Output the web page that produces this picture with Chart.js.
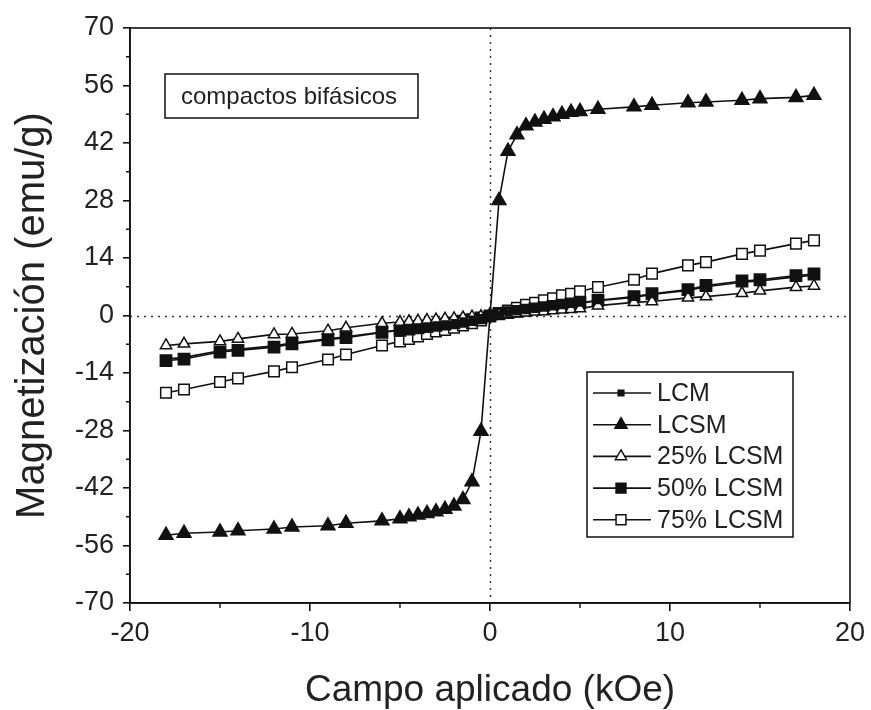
<!DOCTYPE html>
<html>
<head>
<meta charset="utf-8">
<script src="https://cdn.jsdelivr.net/npm/chart.js@4.4.0/dist/chart.umd.min.js"></script>
<style>
  html, body { margin: 0; padding: 0; background: #fff; }
  #c { display: block; }
</style>
</head>
<body>
<canvas id="c" width="871" height="710"></canvas>
<script>
// Applied field (kOe)
const field = [-18, -17, -15, -14, -12, -11, -9, -8, -6, -5, -4.5, -4, -3.5, -3, -2.5, -2, -1.5, -1, -0.5, 0,
               0.5, 1, 1.5, 2, 2.5, 3, 3.5, 4, 4.5, 5, 6, 8, 9, 11, 12, 14, 15, 17, 18];

// Magnetization (emu/g) for each sample
const lcm = [-10.6, -10.2, -8.6, -8.2, -7.4, -6.7, -5.7, -5.2, -4.0, -3.5, -3.2, -2.9, -2.6, -2.3, -2.0, -1.7, -1.3, -0.9, -0.5, -0.1,
             0.3, 0.6, 0.9, 1.2, 1.5, 1.8, 2.1, 2.4, 2.7, 3.0, 3.6, 4.4, 5.1, 6.1, 7.0, 8.1, 8.4, 9.4, 9.8];
const lcsm = [-53.5, -53.0, -52.7, -52.4, -52.0, -51.5, -51.2, -50.6, -50.0, -49.5, -49.0, -48.6, -48.2, -47.8, -47.2, -46.4, -44.8, -40.5, -28.2, 0,
              28.0, 40.0, 44.0, 46.2, 47.1, 47.8, 48.4, 49.0, 49.5, 49.7, 50.2, 50.8, 51.2, 51.8, 52.0, 52.4, 52.8, 53.1, 53.6];
const lcsm25 = [-7.3, -6.9, -6.3, -5.7, -4.6, -4.5, -3.7, -3.0, -1.9, -1.6, -1.4, -1.3, -1.1, -1.0, -0.8, -0.7, -0.5, -0.3, -0.2, 0,
                0.2, 0.4, 0.5, 0.7, 0.9, 1.0, 1.2, 1.4, 1.5, 1.7, 2.4, 3.2, 3.4, 4.3, 4.6, 5.4, 6.0, 6.9, 7.2];
const lcsm50 = [-11.0, -10.6, -8.9, -8.5, -7.7, -6.9, -5.9, -5.4, -4.1, -3.6, -3.3, -3.0, -2.7, -2.4, -2.1, -1.8, -1.4, -1.0, -0.6, -0.1,
                0.4, 0.7, 1.0, 1.3, 1.6, 1.9, 2.2, 2.5, 2.8, 3.1, 3.7, 4.6, 5.3, 6.3, 7.3, 8.4, 8.7, 9.7, 10.1];
const lcsm75 = [-18.8, -18.0, -16.2, -15.3, -13.6, -12.6, -10.7, -9.5, -7.3, -6.3, -5.7, -5.1, -4.5, -3.9, -3.5, -3.0, -2.4, -1.9, -1.2, -0.2,
                0.6, 1.2, 1.9, 2.6, 3.1, 3.7, 4.2, 4.9, 5.3, 5.9, 6.9, 8.7, 10.2, 12.2, 13.0, 15.0, 15.8, 17.5, 18.3];

const seriesNames = ['LCM', 'LCSM', '25% LCSM', '50% LCSM', '75% LCSM'];
const xTicks = [-20, -10, 0, 10, 20];
const yTicks = [-70, -56, -42, -28, -14, 0, 14, 28, 42, 56, 70];

const INK = '#111';
const TXT = '#222';
const toPoints = vals => field.map((f, i) => ({ x: f, y: vals[i] }));

function series(label, vals, style, radius, fill) {
  return {
    label,
    data: toPoints(vals),
    showLine: true,
    borderColor: INK,
    borderWidth: 1.6,
    pointStyle: style,
    pointRadius: radius,
    pointHoverRadius: radius,
    pointBackgroundColor: fill,
    pointBorderColor: INK,
    pointBorderWidth: 1.5,
    tension: 0
  };
}

const datasets = [
  series(seriesNames[0], lcm, 'rect', 4, INK),
  series(seriesNames[1], lcsm, 'triangle', 8, INK),
  series(seriesNames[2], lcsm25, 'triangle', 6.5, '#fff'),
  series(seriesNames[3], lcsm50, 'rect', 8, INK),
  series(seriesNames[4], lcsm75, 'rect', 7.5, '#fff')
];

// Frame, minor ticks and dotted zero lines
const framePlugin = {
  id: 'frame',
  beforeDatasetsDraw(chart) {
    const { ctx, chartArea: a, scales: { x, y } } = chart;
    ctx.save();
    ctx.strokeStyle = '#333';
    ctx.lineWidth = 1.4;
    ctx.setLineDash([2, 5]);
    const x0 = Math.round(x.getPixelForValue(0)) + 0.5;
    const y0 = Math.round(y.getPixelForValue(0)) + 0.5;
    ctx.beginPath();
    ctx.moveTo(x0, a.top); ctx.lineTo(x0, a.bottom);
    ctx.moveTo(a.left, y0); ctx.lineTo(a.right, y0);
    ctx.stroke();
    ctx.restore();
  },
  afterDraw(chart) {
    const { ctx, chartArea: a, scales: { x, y } } = chart;
    ctx.save();
    ctx.strokeStyle = INK;
    ctx.lineWidth = 1.6;
    ctx.setLineDash([]);
    ctx.strokeRect(a.left, a.top, a.right - a.left, a.bottom - a.top);
    // minor ticks halfway between labelled ticks
    ctx.lineWidth = 1.4;
    ctx.beginPath();
    for (let i = 0; i < xTicks.length - 1; i++) {
      const px = x.getPixelForValue((xTicks[i] + xTicks[i + 1]) / 2);
      ctx.moveTo(px, a.bottom); ctx.lineTo(px, a.bottom + 5);
    }
    for (let i = 0; i < yTicks.length - 1; i++) {
      const py = y.getPixelForValue((yTicks[i] + yTicks[i + 1]) / 2);
      ctx.moveTo(a.left, py); ctx.lineTo(a.left - 4, py);
    }
    ctx.stroke();
    ctx.restore();
  }
};

// Legend box and sample note inside the plot
const notesPlugin = {
  id: 'notes',
  afterDraw(chart) {
    const { ctx } = chart;
    ctx.save();
    // note box
    ctx.fillStyle = '#fff';
    ctx.strokeStyle = INK;
    ctx.lineWidth = 1.5;
    ctx.fillRect(165, 74, 253, 44);
    ctx.strokeRect(165, 74, 253, 44);
    ctx.fillStyle = TXT;
    ctx.font = '24px "Liberation Sans", Arial, sans-serif';
    ctx.textBaseline = 'middle';
    ctx.textAlign = 'left';
    ctx.fillText('compactos bifásicos', 181, 97);

    // legend
    const bx = 587, by = 372, bw = 206, bh = 165;
    ctx.fillStyle = '#fff';
    ctx.fillRect(bx, by, bw, bh);
    ctx.strokeRect(bx, by, bw, bh);
    const rowH = 31.7;
    chart.data.datasets.forEach((ds, i) => {
      const cy = by + 21 + i * rowH;
      ctx.strokeStyle = INK;
      ctx.lineWidth = 1.6;
      ctx.beginPath();
      ctx.moveTo(bx + 6, cy); ctx.lineTo(bx + 64, cy);
      ctx.stroke();
      ctx.fillStyle = ds.pointBackgroundColor;
      ctx.strokeStyle = INK;
      ctx.lineWidth = 1.5;
      Chart.helpers.drawPoint(ctx, { pointStyle: ds.pointStyle, radius: Math.min(ds.pointRadius, 7), borderWidth: 1.5 }, bx + 34, cy);
      ctx.fillStyle = TXT;
      ctx.font = '25px "Liberation Sans", Arial, sans-serif';
      ctx.textBaseline = 'middle';
      ctx.fillText(ds.label, bx + 70, cy + 1);
    });
    ctx.restore();
  }
};

new Chart(document.getElementById('c'), {
  type: 'scatter',
  data: { datasets },
  options: {
    responsive: false,
    devicePixelRatio: 1,
    animation: false,
    layout: { padding: { left: 0, top: 28, right: 19, bottom: 0 } },
    plugins: { legend: { display: false }, tooltip: { enabled: false } },
    scales: {
      x: {
        type: 'linear',
        min: -20, max: 20,
        afterBuildTicks: s => { s.ticks = xTicks.map(v => ({ value: v })); },
        afterFit: s => { s.height = 107; },
        grid: { display: true, drawOnChartArea: false, drawTicks: true, tickLength: 8, color: INK, lineWidth: 1.6 },
        border: { display: true, color: INK, width: 1.6 },
        ticks: { color: TXT, font: { family: '"Liberation Sans", Arial, sans-serif', size: 27 }, padding: 6, maxRotation: 0 },
        title: { display: true, text: 'Campo aplicado (kOe)', color: TXT,
                 font: { family: '"Liberation Sans", Arial, sans-serif', size: 37, lineHeight: 1 }, padding: { top: 0, bottom: 1 } }
      },
      y: {
        type: 'linear',
        min: -70, max: 70,
        afterBuildTicks: s => { s.ticks = yTicks.map(v => ({ value: v })); },
        afterFit: s => { s.width = 130; },
        grid: { display: true, drawOnChartArea: false, drawTicks: true, tickLength: 7, color: INK, lineWidth: 1.6 },
        border: { display: true, color: INK, width: 1.6 },
        ticks: { color: TXT, font: { family: '"Liberation Sans", Arial, sans-serif', size: 27 }, padding: 9 },
        title: { display: true, text: 'Magnetización (emu/g)', color: TXT,
                 font: { family: '"Liberation Sans", Arial, sans-serif', size: 40, lineHeight: 1 }, padding: { top: 13, bottom: 0 } }
      }
    }
  },
  plugins: [framePlugin, notesPlugin]
});
</script>
</body>
</html>
